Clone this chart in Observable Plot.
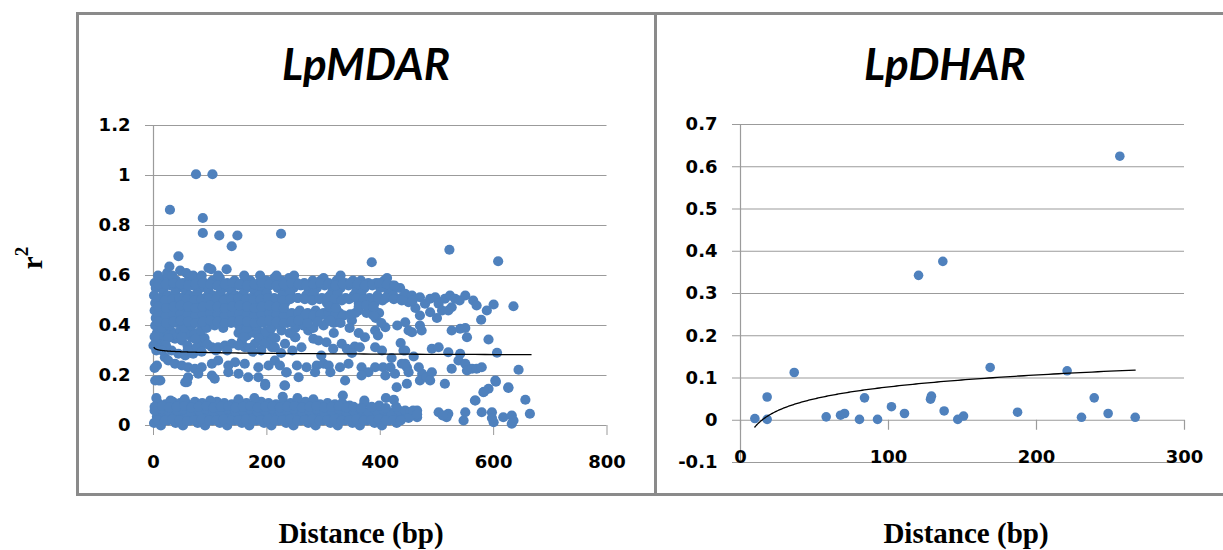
<!DOCTYPE html>
<html>
<head>
<meta charset="utf-8">
<script src="https://cdn.jsdelivr.net/npm/d3@7"></script>
<script src="https://cdn.jsdelivr.net/npm/@observablehq/plot@0.6"></script>
<style>
  body { margin: 0; background: #fff; }
  #wrap { position: relative; width: 1223px; height: 550px; overflow: hidden; background: #fff; }
  .panel { position: absolute; border: 3px solid #8a8a8a; box-sizing: border-box; }
  .title { position: absolute; font: italic 700 44px Lato, "Open Sans", sans-serif; line-height: 44px; transform: translateX(-50%); white-space: nowrap; color: #000; }
  .xlabel { position: absolute; font: 700 29px "Liberation Serif", "DejaVu Serif", serif; line-height: 29px; transform: translateX(-50%); white-space: nowrap; color: #000; }
  .ylabel { position: absolute; font: 700 29px "Liberation Serif", "DejaVu Serif", serif; line-height: 29px; transform: translate(-50%, -50%) rotate(-90deg); white-space: nowrap; color: #000; }
  .ylabel sup { font-size: 19px; position: relative; top: -4px; }
  .chart { position: absolute; }
</style>
</head>
<body>
<div id="wrap">
  <div class="panel" style="left:76px; top:12px; width:581px; height:484px;"></div>
  <div class="panel" style="left:654px; top:12px; width:620px; height:484px;"></div>
  <div class="title" style="left:366px; top:41px;">LpMDAR</div>
  <div class="title" style="left:945px; top:41px;">LpDHAR</div>
  <div class="ylabel" style="left:29px; top:258px;">r<sup>2</sup></div>
  <div class="xlabel" style="left:361px; top:519px;">Distance (bp)</div>
  <div class="xlabel" style="left:966px; top:519px;">Distance (bp)</div>
  <div class="chart" id="left" style="left:78px; top:14px;"></div>
  <div class="chart" id="right" style="left:657px; top:14px;"></div>
</div>
<script>
// ---------- LpMDAR: [distance (bp), r2] ----------
const mdarOutliers = [
  [75,1.005],[104,1.005],[29,.863],[87,.83],[87,.77],[116,.76],[148,.76],[138,.717],
  [225,.767],[44,.677],[385,.653],[522,.703],[608,.657],[28,.636],[102,.625],[129,.625]
];
const mdarUpper = [
  [2,.57],[14,.58],[27,.59],[40,.58],[52,.57],[63,.59],[76,.58],[90,.57],[104,.58],[117,.59],[130,.57],[143,.58],[157,.57],[171,.58],[186,.57],[199,.58],[213,.59],[226,.58],[239,.59],[253,.57],[266,.57],[281,.58],[295,.58],[309,.57],[323,.58],[338,.57],[352,.58],[366,.58],[379,.57],[393,.57],[407,.58],[421,.56],[435,.55],
  [4,.55],[17,.54],[30,.56],[44,.55],[57,.54],[70,.56],[83,.55],[97,.54],[111,.56],[124,.55],[137,.54],[150,.56],[164,.55],[178,.54],[192,.55],[205,.56],[219,.55],[233,.54],[247,.55],[260,.56],[274,.54],[288,.55],[302,.56],[316,.54],[330,.55],[344,.56],[358,.54],[372,.55],[386,.56],[400,.55],[414,.54],[428,.55],
  [1,.52],[12,.51],[25,.52],[38,.53],[50,.51],[64,.52],[77,.53],[91,.51],[105,.52],[118,.53],[131,.51],[145,.52],[159,.53],[172,.51],[186,.52],[200,.53],[213,.51],[227,.52],[241,.53],[255,.51],[269,.52],[283,.53],[297,.51],[311,.52],[325,.53],[339,.51],[353,.52],[367,.53],[381,.51],[395,.52],[409,.51],[423,.52],[437,.51],
  [3,.49],[16,.48],[29,.49],[42,.5],[55,.48],[68,.49],[82,.5],[95,.48],[109,.49],[122,.5],[136,.48],[149,.49],[163,.5],[176,.48],[190,.49],[204,.5],[218,.48],[232,.49],[306,.49],[320,.5],[362,.49],[376,.5],[390,.49],[404,.5],
  [2,.46],[14,.45],[27,.46],[40,.47],[53,.45],[66,.46],[80,.47],[93,.45],[107,.46],[121,.47],[134,.45],[148,.46],[162,.47],[175,.45],[189,.46],[203,.47],[216,.45],[230,.46],[244,.45],[258,.46],[272,.45],[286,.46],[300,.45],[314,.46],[328,.45],[362,.46],[376,.45],[390,.46],[398,.45],
  [4,.43],[17,.42],[31,.43],[45,.44],[58,.42],[72,.43],[86,.44],[100,.42],[113,.43],[127,.44],[141,.42],[155,.43],[168,.44],[182,.42],[196,.43],[210,.44],[224,.42],[238,.43],[252,.44],[266,.42],[280,.43],[294,.44],[308,.42],[322,.43],[336,.44],[350,.42],[392,.43],[402,.41],
  [3,.4],[15,.39],[28,.4],[41,.41],[54,.39],[67,.4],[80,.41],[94,.39],[108,.4],[123,.39],[137,.41],[151,.4],[165,.39],[180,.4],[194,.41],[208,.39],[222,.4],[236,.41],[250,.39],[264,.4],[282,.39],[300,.4],[318,.41],[346,.39],[430,.4],
  [8,.6],[24,.61],[33,.6],[47,.62],[58,.61],[70,.6],[85,.6],[97,.63],[114,.6],[160,.6],[188,.6],[217,.6],[248,.6],[300,.59],[330,.6],[412,.59],
  [444,.527],[450,.493],[456,.52],[470,.513],[479,.487],[488,.507],[497,.513],[503,.487],[509,.46],[514,.507],[523,.52],[532,.507],[526,.473],[520,.46],[488,.453],[550,.52],[564,.5],[570,.48],[588,.46],[600,.484],[635,.477],[578,.423],[444,.413],[462,.47],[470,.44],[500,.43],[540,.5],[457,.5]
];
const mdarUpperFill = [
  [9,.565],[22,.565],[35,.57],[48,.565],[61,.56],[74,.565],[87,.57],[100,.565],[113,.56],[126,.565],[139,.57],[152,.565],[165,.56],[178,.565],[191,.57],[204,.565],[217,.56],[230,.565],[243,.57],[256,.565],[269,.56],[282,.565],[295,.57],[308,.565],[321,.56],[334,.565],[347,.57],[360,.565],[373,.56],[386,.565],[399,.57],[412,.565],[425,.56],
  [7,.505],[20,.5],[33,.505],[46,.51],[59,.505],[72,.5],[85,.505],[98,.51],[111,.505],[124,.5],[137,.505],[150,.51],[163,.505],[176,.5],[189,.505],[202,.51],[215,.505],[228,.5],[241,.505],[254,.51],[267,.505],[280,.5],[293,.505],[306,.51],[319,.505],[332,.5],[345,.505],[358,.51],[371,.505],[384,.5],[397,.505],[410,.51],[424,.505],[438,.5],
  [9,.445],[22,.44],[35,.445],[48,.45],[61,.445],[74,.44],[87,.445],[100,.45],[113,.445],[126,.44],[139,.445],[152,.45],[165,.445],[178,.44],[191,.445],[204,.45],[217,.445],[230,.44],[243,.445],[256,.45],[269,.445],[282,.44],[295,.445],[308,.45],[321,.445],[334,.44],[347,.445],[356,.45],[388,.44],
  [9,.475],[22,.47],[35,.475],[48,.48],[61,.475],[74,.47],[87,.475],[100,.48],[113,.475],[126,.47],[139,.475],[152,.48],[165,.475],[178,.47],[191,.475],[204,.48],[217,.475],[230,.47],[310,.475],[322,.47],[362,.475],[375,.48],[388,.475],
  [9,.415],[22,.41],[35,.415],[48,.42],[61,.415],[74,.41],[87,.415],[100,.42],[113,.415],[126,.41],[139,.415],[152,.42],[165,.415],[178,.41],[191,.415],[204,.42],[217,.415],[230,.41],[243,.415],[256,.42],[272,.41],[290,.415],[312,.42],[330,.41]
];
const mdarMiddle = [
  [8,.347],[14,.327],[20,.34],[38,.347],[50,.34],[67,.353],[32,.3],[44,.287],[56,.28],[70,.287],[85,.327],[103,.313],[114,.313],[126,.32],[138,.327],[156,.34],[161,.313],[179,.327],[203,.347],[209,.313],
  [6,.24],[20,.273],[26,.26],[38,.247],[50,.24],[61,.233],[73,.227],[85,.233],[103,.247],[114,.26],[132,.24],[144,.253],[161,.247],[185,.233],[203,.24],
  [9,.18],[56,.173],[61,.193],[79,.207],[103,.2],[108,.187],[132,.213],[150,.207],[167,.193],[185,.193],[197,.167],
  [2,.23],[3,.18],[4,.33],[5,.3],[12,.18],[59,.173],[197,.16],[231,.16],[234,.212],[250,.353],[206,.333],
  [6,.37],[18,.36],[30,.38],[42,.37],[54,.36],[66,.38],[78,.37],[90,.35],[150,.37],[165,.36],[178,.37],[192,.36],[205,.37],[215,.35],
  [12,.375],[24,.38],[36,.365],[48,.38],[60,.37],[72,.365],[84,.38],[156,.38],[170,.375],[184,.38],[198,.375],
  [2,.355],[26,.35],[50,.355],[74,.345],[160,.355],[186,.35],
  [0,.32],[10,.31],[22,.32],[60,.32],[75,.31],[95,.325],[150,.32],[170,.31],[195,.325],
  [15,.3],[60,.3],[85,.295],[110,.3],[130,.3],[175,.295],[190,.3],
  [273,.38],[282,.347],[250,.353],[232,.327],[214,.313],[261,.313],[291,.34],[305,.333],[317,.307],[332,.327],[341,.307],[355,.316],[364,.313],[391,.313],[403,.3],[373,.353],[391,.38],[409,.393],[441,.3],
  [214,.26],[223,.24],[253,.24],[270,.233],[288,.24],[300,.247],[309,.24],[329,.233],[344,.247],[367,.233],[379,.213],[391,.233],[405,.233],[418,.233],[438,.247],[447,.233],
  [235,.213],[256,.193],[285,.213],[312,.213],[338,.18],[367,.2],[409,.2],[426,.207],[232,.16],[429,.153],[447,.167],
  [225,.29],[245,.3],[296,.28],[350,.29],[420,.27],[436,.33],[396,.36],[362,.37],[318,.37],[240,.37],[226,.38],
  [450,.38],[456,.373],[470,.4],[473,.38],[526,.38],[541,.387],[550,.39],[553,.353],[591,.344],
  [444,.3],[459,.276],[491,.307],[503,.313],[520,.293],[541,.287],[606,.291],
  [444,.247],[450,.213],[468,.233],[474,.207],[470,.18],[482,.193],[491,.213],[488,.18],[514,.167],[526,.227],[538,.26],[550,.247],[553,.22],[562,.227],[570,.227],[579,.233],[644,.223],
  [603,.18],[591,.147],[582,.133],[626,.153],[656,.103],[567,.1],[583,.135],[604,.175],[626,.15]
];
const mdarLower = [
  [1,.01],[13,0],[26,.02],[39,.01],[52,0],[65,.02],[78,.01],[91,0],[104,.02],[117,.01],[130,0],[143,.02],[156,.01],[169,0],[182,.02],[195,.01],[208,0],[221,.02],[234,.01],[247,0],[260,.02],[273,.01],[286,0],[299,.02],[312,.01],[325,0],[338,.02],[351,.01],[364,0],[377,.02],[390,.01],[403,0],[416,.02],[429,.01],
  [6,.035],[19,.04],[32,.03],[45,.04],[58,.035],[71,.03],[84,.04],[97,.035],[110,.03],[123,.04],[136,.035],[149,.03],[162,.04],[175,.035],[188,.03],[201,.04],[214,.035],[227,.03],[240,.04],[253,.035],[266,.03],[279,.04],[292,.035],[305,.03],[318,.04],[331,.035],[344,.03],[357,.04],[370,.035],[383,.03],[396,.04],[409,.035],[422,.03],[436,.04],
  [2,.06],[15,.065],[28,.055],[41,.06],[54,.065],[67,.055],[80,.06],[93,.065],[106,.055],[119,.06],[132,.065],[145,.055],[158,.06],[171,.065],[184,.055],[197,.06],[210,.065],[223,.055],[236,.06],[249,.065],[262,.055],[275,.06],[288,.065],[301,.055],[314,.06],[327,.065],[340,.055],[353,.06],[366,.065],[379,.055],[392,.06],[405,.065],[420,.05],[433,.06],
  [8,.09],[21,.085],[34,.095],[47,.09],[60,.085],[73,.095],[86,.09],[99,.085],[112,.095],[125,.09],[138,.085],[151,.095],[164,.09],[177,.085],[190,.095],[203,.09],[216,.085],[229,.095],[242,.09],[255,.085],[268,.095],[281,.09],[294,.085],[307,.09],[320,.085],[333,.09],[346,.08],[372,.09],[398,.08],
  [5,.11],[30,.1],[55,.105],[100,.1],[150,.105],[178,.11],[228,.115],[254,.11],[282,.105],[334,.12],[372,.1],[410,.11],
  [444,.06],[453,.053],[465,.06],[465,.033],[503,.053],[520,.047],[517,.033],[550,.053],[547,.02],[579,.053],[597,.053],[600,.013],[617,.033],[632,.04],[632,.007],[664,.047],[424,.103],[450,.03],[458,.06],[465,.045],[510,.04],[568,.1],[635,.02],[597,.03]
];
const mdarLowerFill = [
  [7,.022],[20,.02],[33,.025],[46,.022],[59,.018],[72,.022],[85,.025],[98,.02],[111,.022],[124,.025],[137,.02],[150,.022],[163,.025],[176,.02],[189,.022],[202,.025],[215,.02],[228,.022],[241,.025],[254,.02],[267,.022],[280,.025],[293,.02],[306,.022],[319,.025],[332,.02],[345,.022],[358,.025],[371,.02],[384,.022],[397,.025],[410,.02],[423,.022],[436,.02],
  [2,.075],[15,.078],[28,.072],[41,.075],[54,.078],[67,.072],[80,.075],[93,.078],[106,.072],[119,.075],[132,.078],[145,.072],[158,.075],[171,.078],[184,.072],[197,.075],[210,.078],[223,.072],[236,.075],[249,.078],[262,.072],[275,.075],[288,.078],[301,.072],[314,.075],[327,.078],[340,.072],[353,.075],[366,.07],[385,.075],[410,.07],[428,.075]
];
const mdarTrend = { a: -0.0044, b: 0.312, from: 1, to: 666 };   // Excel logarithmic trendline y = a ln(x) + b

// ---------- LpDHAR ----------
const dharDistance = [9.7, 18, 18, 36.3, 57.9, 67.6, 70.3, 80.4, 83.8, 92.6, 102, 110.8, 120.3, 128.4, 129, 136.7, 137.6, 146.8, 150.7, 168.7, 187.2, 220.7, 230.4, 239, 248.4, 256.3, 266.7];
const dharR2       = [0.004, 0.055, 0.002, 0.113, 0.008, 0.012, 0.016, 0.002, 0.053, 0.002, 0.032, 0.016, 0.343, 0.05, 0.057, 0.376, 0.022, 0.002, 0.01, 0.125, 0.019, 0.117, 0.007, 0.053, 0.016, 0.625, 0.007];
const dharTrend = { a: 0.0407, b: -0.1085, from: 9.7, to: 266.7 };

// ---------- axes ----------
const mdarXTicks = [0, 200, 400, 600, 800];
const mdarYTicks = [0, 0.2, 0.4, 0.6, 0.8, 1, 1.2];
const dharXTicks = [0, 100, 200, 300];
const dharYTicks = [-0.1, 0, 0.1, 0.2, 0.3, 0.4, 0.5, 0.6, 0.7];

const BLUE = "#4F81BD";
const GRID = "#9b9b9b";
const fmt = d => String(+d.toFixed(1));
const style = { fontFamily: "'DejaVu Sans', sans-serif", fontSize: "18px", fontWeight: "bold", color: "#000", background: "transparent", overflow: "visible" };

function trendPoints(t) {
  const n = 200, pts = [];
  for (let i = 0; i <= n; i++) {
    const x = t.from * Math.pow(t.to / t.from, i / n);
    pts.push({ x, y: t.a * Math.log(x) + t.b });
  }
  return pts;
}

const mdarAll = [...mdarLower, ...mdarLowerFill, ...mdarMiddle, ...mdarUpper, ...mdarUpperFill, ...mdarOutliers].map(([x, y]) => ({ x, y }));
const dharAll = dharDistance.map((x, i) => ({ x, y: dharR2[i] }));

const left = Plot.plot({
  width: 577, height: 480,
  marginLeft: 75, marginRight: 48.5, marginTop: 111, marginBottom: 69,
  x: { domain: [0, 800] },
  y: { domain: [0, 1.2] },
  style,
  marks: [
    Plot.ruleY(mdarYTicks, { stroke: GRID, strokeWidth: 1.2 }),
    Plot.ruleX([0], { stroke: GRID, strokeWidth: 1.2 }),
    Plot.axisY({ ticks: mdarYTicks, tickFormat: fmt, tickSize: 8, tickPadding: 15, stroke: GRID, fill: "#000", label: null }),
    Plot.axisX({ ticks: mdarXTicks, tickFormat: d => String(d), tickSize: 10, tickPadding: 20, stroke: GRID, fill: "#000", label: null }),
    Plot.dot(mdarAll, { x: "x", y: "y", r: 5.1, fill: BLUE }),
    Plot.line(trendPoints(mdarTrend), { x: "x", y: "y", stroke: "#000", strokeWidth: 1.3 })
  ]
});
document.getElementById("left").appendChild(left);

const right = Plot.plot({
  width: 566, height: 480,
  marginLeft: 83, marginRight: 39, marginTop: 110, marginBottom: 32,
  x: { domain: [0, 300] },
  y: { domain: [-0.1, 0.7] },
  style,
  marks: [
    Plot.ruleY(dharYTicks, { stroke: GRID, strokeWidth: 1.2 }),
    Plot.ruleX([0], { stroke: GRID, strokeWidth: 1.2 }),
    Plot.axisY({ ticks: dharYTicks, tickFormat: fmt, tickSize: 8, tickPadding: 15, stroke: GRID, fill: "#000", label: null }),
    Plot.ruleX(dharXTicks, { y1: 0, y2: 0, insetBottom: -10, stroke: GRID, strokeWidth: 1.2 }),
    Plot.axisX({ ticks: dharXTicks, tickFormat: d => String(d), tickSize: 0, tickPadding: 0, lineAnchor: "bottom", fill: "#000", label: null }),
    Plot.dot(dharAll, { x: "x", y: "y", r: 4.8, fill: BLUE }),
    Plot.line(trendPoints(dharTrend), { x: "x", y: "y", stroke: "#000", strokeWidth: 1.3 })
  ]
});
document.getElementById("right").appendChild(right);
</script>
</body>
</html>
